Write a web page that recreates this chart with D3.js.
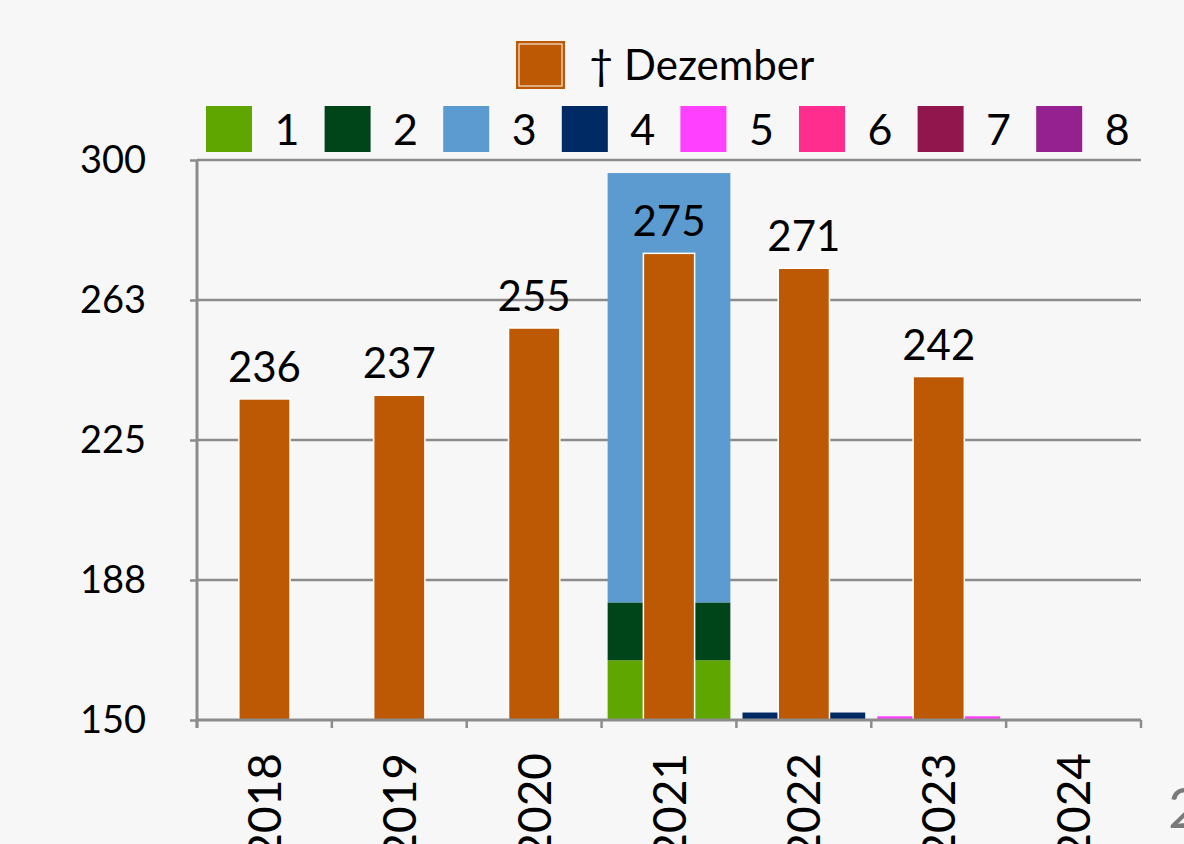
<!DOCTYPE html>
<html lang="de">

<head>
    <meta charset="UTF-8">
    <title>Dezember</title>
    <script src="https://d3js.org/d3.v7.min.js"></script>
    <style>
        html, body {
            margin: 0;
            padding: 0;
            background: #f7f7f7;
        }

        svg {
            display: block;
            font-family: Lato, "Open Sans", sans-serif;
        }
    </style>
</head>

<body>
    <svg id="chart" width="1184" height="844"></svg>

    <script>
        // data
        var years = ['2018', '2019', '2020', '2021', '2022', '2023', '2024'];
        var december = [236, 237, 255, 275, 271, 242, null];

        // stacked series 1..8 (stacked from 0, axis starts at 150)
        var seriesNames = ['1', '2', '3', '4', '5', '6', '7', '8'];
        var s1 = [0, 0, 0, 166, 0, 0, 0];
        var s2 = [0, 0, 0, 15.5, 0, 0, 0];
        var s3 = [0, 0, 0, 115, 0, 0, 0];
        var s4 = [0, 0, 0, 0, 152, 0, 0];
        var s5 = [0, 0, 0, 0, 0, 151, 0];
        var s6 = [0, 0, 0, 0, 0, 0, 0];
        var s7 = [0, 0, 0, 0, 0, 0, 0];
        var s8 = [0, 0, 0, 0, 0, 0, 0];

        var yTicks = [150, 187.5, 225, 262.5, 300];
        var yTickLabels = ['150', '188', '225', '263', '300'];

        var colors = ['#5fa700', '#00441a', '#5b9bd0', '#002a63', '#ff40ff', '#ff2e8e', '#92164e', '#95208f'];
        var orange = '#bd5905';
        var gridColor = '#8c8c8c';

        var plotLeft = 197, plotRight = 1141, plotTop = 160, plotBottom = 720;

        var svg = d3.select('#chart');

        var x = d3.scaleBand().domain(years).range([plotLeft, plotRight]).padding(0);
        var y = d3.scaleLinear().domain([150, 300]).range([plotBottom, plotTop]);

        // gridlines
        svg.append('g')
            .selectAll('line')
            .data(yTicks.slice(1))
            .join('line')
            .attr('x1', plotLeft)
            .attr('x2', plotRight)
            .attr('y1', function (d) { return y(d); })
            .attr('y2', function (d) { return y(d); })
            .attr('stroke', gridColor)
            .attr('stroke-width', 2.5);

        svg.append('defs').append('clipPath')
            .attr('id', 'plot')
            .append('rect')
            .attr('x', plotLeft).attr('y', 0)
            .attr('width', plotRight - plotLeft).attr('height', plotBottom);

        // stacked bars
        var table = years.map(function (yr, i) {
            return { year: yr, '1': s1[i], '2': s2[i], '3': s3[i], '4': s4[i], '5': s5[i], '6': s6[i], '7': s7[i], '8': s8[i] };
        });
        var stacked = d3.stack().keys(seriesNames)(table);

        var wide = x.bandwidth() * 0.91;
        svg.append('g')
            .attr('clip-path', 'url(#plot)')
            .selectAll('g')
            .data(stacked)
            .join('g')
            .attr('fill', function (d, i) { return colors[i]; })
            .selectAll('rect')
            .data(function (d) { return d.filter(function (p) { return p[1] > p[0]; }); })
            .join('rect')
            .attr('x', function (d) { return x(d.data.year) + (x.bandwidth() - wide) / 2; })
            .attr('width', wide)
            .attr('y', function (d) { return y(d[1]); })
            .attr('height', function (d) { return y(d[0]) - y(d[1]); });

        // december bars
        var narrow = x.bandwidth() * 0.38;
        var decData = years.map(function (yr, i) { return { year: yr, v: december[i] }; })
            .filter(function (d) { return d.v != null; });

        svg.append('g')
            .selectAll('rect')
            .data(decData)
            .join('rect')
            .attr('x', function (d) { return x(d.year) + (x.bandwidth() - narrow) / 2; })
            .attr('width', narrow)
            .attr('y', function (d) { return y(d.v); })
            .attr('height', function (d) { return y(150) - y(d.v); })
            .attr('fill', orange)
            .attr('stroke', '#ffffff')
            .attr('stroke-width', 1.5);

        svg.append('g')
            .selectAll('text')
            .data(decData)
            .join('text')
            .attr('x', function (d) { return x(d.year) + x.bandwidth() / 2; })
            .attr('y', function (d) { return y(d.v) - 17; })
            .attr('text-anchor', 'middle')
            .attr('font-size', 42)
            .attr('fill', '#000')
            .text(function (d) { return d.v; });

        // y axis
        var yAxis = svg.append('g')
            .attr('transform', 'translate(' + plotLeft + ',0)')
            .call(d3.axisLeft(y).tickValues(yTicks).tickSize(7).tickPadding(44)
                .tickFormat(function (d, i) { return yTickLabels[i]; }));
        yAxis.select('.domain').attr('stroke', gridColor).attr('stroke-width', 3)
            .attr('d', 'M0,' + plotTop + 'V' + (plotBottom + 8));
        yAxis.selectAll('.tick line').attr('stroke', gridColor).attr('stroke-width', 2.5);
        yAxis.selectAll('.tick text')
            .attr('font-size', 38)
            .attr('font-family', 'Lato, sans-serif')
            .attr('fill', '#000');

        // x axis
        var xAxis = svg.append('g')
            .attr('transform', 'translate(0,' + plotBottom + ')')
            .call(d3.axisBottom(x).tickSize(0).tickPadding(0));
        xAxis.select('.domain').attr('stroke', gridColor).attr('stroke-width', 3)
            .attr('d', 'M' + plotLeft + ',0H' + plotRight);
        xAxis.selectAll('.tick text')
            .attr('font-size', 46)
            .attr('font-family', 'Lato, sans-serif')
            .attr('fill', '#000')
            .attr('text-anchor', 'end')
            .attr('dy', '0.36em')
            .attr('transform', 'translate(0,33) rotate(-90)');

        // band boundary ticks
        var bounds = years.map(function (yr) { return x(yr); }).concat([plotRight]);
        xAxis.append('g')
            .selectAll('line')
            .data(bounds)
            .join('line')
            .attr('x1', function (d) { return d; })
            .attr('x2', function (d) { return d; })
            .attr('y1', 0)
            .attr('y2', 8)
            .attr('stroke', gridColor)
            .attr('stroke-width', 2.5);

        // legend: december
        var lg1 = svg.append('g');
        lg1.append('rect')
            .attr('x', 517).attr('y', 42).attr('width', 47).attr('height', 46)
            .attr('fill', orange).attr('stroke', orange).attr('stroke-width', 2);
        lg1.append('rect')
            .attr('x', 519).attr('y', 44).attr('width', 43).attr('height', 42)
            .attr('fill', 'none').attr('stroke', '#ffffff').attr('stroke-width', 1);
        lg1.append('text')
            .attr('x', 589).attr('y', 80)
            .attr('font-size', 42)
            .text('† Dezember');

        // legend: series 1..8
        var lg2 = svg.append('g')
            .selectAll('g')
            .data(seriesNames)
            .join('g')
            .attr('transform', function (d, i) { return 'translate(' + (206 + i * 118.6) + ',106)'; });
        lg2.append('rect')
            .attr('width', 46).attr('height', 46)
            .attr('fill', function (d, i) { return colors[i]; });
        lg2.append('text')
            .attr('x', 81).attr('y', 39)
            .attr('text-anchor', 'middle')
            .attr('font-size', 43)
            .text(function (d) { return d; });

        // cut-off page number at the right edge
        svg.append('text')
            .attr('x', 1168).attr('y', 828)
            .attr('font-size', 57)
            .attr('fill', '#7a7a7a')
            .text('2');
    </script>
</body>

</html>
